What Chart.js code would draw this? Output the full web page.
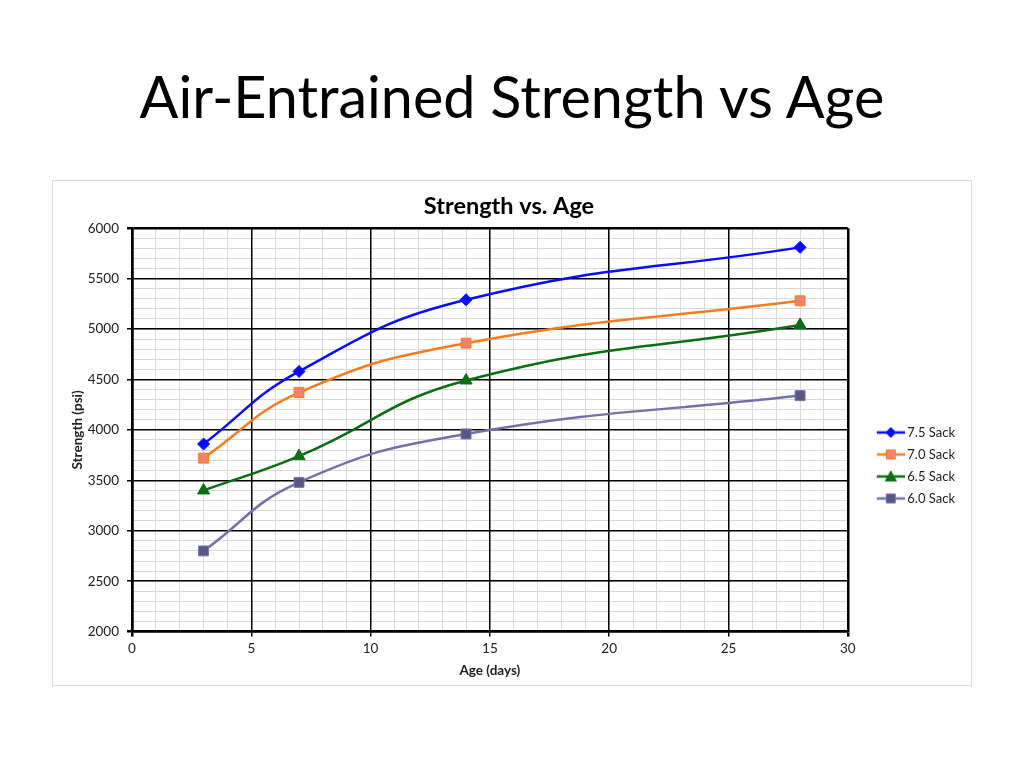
<!DOCTYPE html>
<html>
<head>
<meta charset="utf-8">
<script src="https://cdn.jsdelivr.net/npm/chart.js@4.4.0/dist/chart.umd.min.js"></script>
<style>
  html, body { margin: 0; padding: 0; background: #fff; }
  body { width: 1024px; height: 768px; position: relative; overflow: hidden; font-family: Lato, "Open Sans", sans-serif; }
  #title { position: absolute; left: 0; width: 1024px; top: 61px; text-align: center; font-size: 57.5px; color: #000; line-height: 70px; }
  #box { position: absolute; left: 52px; top: 180px; width: 918px; height: 504px; border: 1px solid #d9d9d9; }
  #box canvas { display: block; }
</style>
</head>
<body>
<div id="title">Air-Entrained Strength vs Age</div>
<div id="box"><canvas id="c" width="918" height="504"></canvas></div>
<script>
const ages = [3, 7, 14, 28];
const sack75 = [3860, 4580, 5290, 5810];
const sack70 = [3720, 4370, 4860, 5280];
const sack65 = [3400, 3740, 4490, 5040];
const sack60 = [2800, 3480, 3960, 4340];
const seriesNames = ['7.5 Sack', '7.0 Sack', '6.5 Sack', '6.0 Sack'];
const xTicks = [0, 5, 10, 15, 20, 25, 30];
const yTicks = [2000, 2500, 3000, 3500, 4000, 4500, 5000, 5500, 6000];
const xMinorStep = 1;
const yMinorStep = 100;

function pts(vals) { return ages.map((a, i) => ({ x: a, y: vals[i] })); }

const LEG_W = 44;
function legendIcon(line, fill, border, shape) {
  const c = document.createElement('canvas');
  c.width = LEG_W + 8; c.height = 14;
  const g = c.getContext('2d');
  const x1 = c.width - 28, x2 = c.width, cx = (x1 + x2) / 2, cy = 7;
  g.strokeStyle = line; g.lineWidth = 2.5;
  g.beginPath(); g.moveTo(x1, cy); g.lineTo(x2, cy); g.stroke();
  g.fillStyle = fill; g.strokeStyle = border; g.lineWidth = 1;
  g.beginPath();
  if (shape === 'diamond') { g.moveTo(cx, cy - 5); g.lineTo(cx + 5, cy); g.lineTo(cx, cy + 5); g.lineTo(cx - 5, cy); g.closePath(); }
  else if (shape === 'tri') { g.moveTo(cx, cy - 5.5); g.lineTo(cx + 5.5, cy + 4.5); g.lineTo(cx - 5.5, cy + 4.5); g.closePath(); }
  else { g.rect(cx - 4.5, cy - 4.5, 9, 9); }
  g.fill(); g.stroke();
  return c;
}

const styles = [
  { line: '#0a0aff', fill: '#0a0aff', border: '#0a0aff', shape: 'rectRot', icon: 'diamond', r: 6 },
  { line: '#f57d20', fill: '#f0826e', border: '#f57d20', shape: 'rect', icon: 'sq', r: 7 },
  { line: '#0c6e12', fill: '#0c6e12', border: '#0c6e12', shape: 'triangle', icon: 'tri', r: 7 },
  { line: '#7670a8', fill: '#5a5685', border: '#7670a8', shape: 'rect', icon: 'sq', r: 7 }
];
const allVals = [sack75, sack70, sack65, sack60];

const datasets = allVals.map((v, i) => ({
  label: seriesNames[i],
  data: pts(v),
  xAxisID: 'x', yAxisID: 'y',
  borderColor: styles[i].line,
  backgroundColor: styles[i].fill,
  pointBackgroundColor: styles[i].fill,
  pointBorderColor: styles[i].border,
  pointBorderWidth: 1,
  pointStyle: styles[i].shape,
  pointRadius: styles[i].r,
  borderWidth: 2.5,
  tension: 0.45,
  fill: false
}));
const icons = styles.map(s => legendIcon(s.line, s.fill, s.border, s.icon));

const FONT = 'Lato';
const TXT = '#222';

function stepTicks(min, max, step) { const t = []; for (let v = min; v <= max + 1e-9; v += step) t.push({ value: v }); return t; }

new Chart(document.getElementById('c'), {
  type: 'line',
  data: { datasets },
  options: {
    responsive: false,
    animation: false,
    layout: { padding: { left: 0, right: 6, top: 0, bottom: 6 } },
    plugins: {
      title: {
        display: true, text: 'Strength vs. Age',
        font: { family: FONT, size: 23.5, weight: 'bold' }, color: '#000',
        padding: { top: 11, bottom: 8 }
      },
      legend: {
        position: 'right',
        title: { display: true, text: ' ', font: { size: 10 }, padding: { top: 29.5, bottom: 29.5 } },
        labels: {
          usePointStyle: true,
          pointStyleWidth: LEG_W,
          boxHeight: 12,
          padding: 9,
          color: TXT,
          font: { family: FONT, size: 13 },
          generateLabels(chart) {
            return chart.data.datasets.map((d, i) => ({
              text: d.label, pointStyle: icons[i], fillStyle: d.backgroundColor,
              strokeStyle: d.borderColor, lineWidth: 0, hidden: false, datasetIndex: i, fontColor: TXT
            }));
          }
        }
      },
      tooltip: { enabled: false }
    },
    scales: {
      xMinor: {
        type: 'linear', axis: 'x', position: 'bottom', min: 0, max: 30,
        afterBuildTicks(scale) { scale.ticks = stepTicks(0, 30, xMinorStep); },
        ticks: { display: false },
        grid: { color: '#d9d9d9', lineWidth: 1, drawTicks: false, z: -2 },
        border: { display: false }
      },
      yMinor: {
        type: 'linear', axis: 'y', position: 'left', min: 2000, max: 6000,
        afterBuildTicks(scale) { scale.ticks = stepTicks(2000, 6000, yMinorStep); },
        afterFit(scale) { scale.width = 0; },
        ticks: { display: false },
        grid: { color: '#d9d9d9', lineWidth: 1, drawTicks: false, z: -2 },
        border: { display: false }
      },
      x: {
        type: 'linear', position: 'bottom', min: 0, max: 30,
        afterBuildTicks(scale) { scale.ticks = xTicks.map(v => ({ value: v })); },
        ticks: {
          autoSkip: false, maxRotation: 0, color: TXT, padding: 4,
          font: { family: FONT, size: 13.5 },
          callback: v => String(v)
        },
        grid: {
          color: '#000',
          lineWidth: c => (c.tick.value === 30 || c.tick.value === 0) ? 2.5 : 1.5,
          tickColor: '#000',
          tickLength: 5,
          z: -1
        },
        border: { display: true, color: '#000', width: 2.5 },
        title: { display: true, text: 'Age (days)', color: TXT, font: { family: FONT, size: 13.5, weight: 'bold' }, padding: { top: 2, bottom: 0 } }
      },
      y: {
        type: 'linear', position: 'left', min: 2000, max: 6000,
        afterBuildTicks(scale) { scale.ticks = yTicks.map(v => ({ value: v })); },
        afterFit(scale) { scale.width = 79; },
        ticks: {
          autoSkip: false, color: TXT, padding: 8,
          font: { family: FONT, size: 13.5 },
          callback: v => String(v)
        },
        grid: {
          color: '#000',
          lineWidth: c => (c.tick.value === 6000 || c.tick.value === 2000) ? 2.5 : 1.5,
          tickColor: '#000',
          tickLength: 5,
          z: -1
        },
        border: { display: true, color: '#000', width: 2.5 },
        title: { display: true, text: 'Strength (psi)', color: TXT, font: { family: FONT, size: 13.5, weight: 'bold' }, padding: { top: 17, bottom: 0 } }
      }
    }
  }
});
</script>
</body>
</html>
